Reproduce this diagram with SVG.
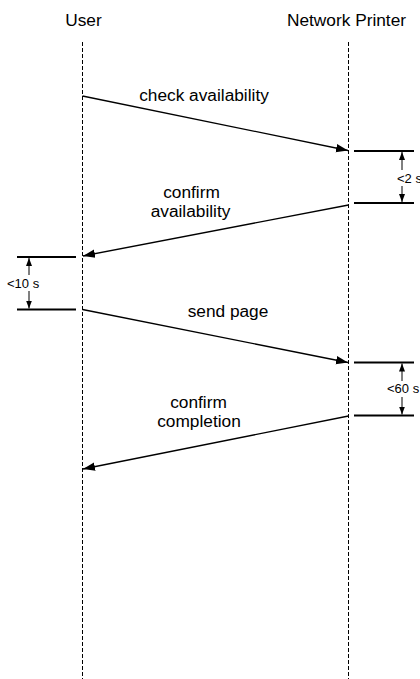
<svg xmlns="http://www.w3.org/2000/svg" width="420" height="679" viewBox="0 0 420 679">
<defs>
<style>
text{font-family:"Liberation Sans",Arial,sans-serif;fill:#000}
.lbl{font-size:17.3px;text-anchor:middle}
.t{font-size:13px}
.life{stroke:#000;stroke-width:1;stroke-dasharray:4 2;fill:none}
.msg{stroke:#000;stroke-width:1.3;fill:none;marker-end:url(#ah)}
.tick{stroke:#000;stroke-width:1.8;fill:none}
.dim{stroke:#000;stroke-width:1;fill:none;marker-end:url(#sh)}
</style>
<marker id="ah" markerUnits="userSpaceOnUse" markerWidth="14" markerHeight="10" viewBox="0 0 14 10" refX="12" refY="5" orient="auto">
<path d="M0,0.8 L12,5 L0,9.2 Z" fill="#000"/>
</marker>
<marker id="sh" markerUnits="userSpaceOnUse" markerWidth="10" markerHeight="8" viewBox="0 0 10 8" refX="8" refY="4" orient="auto">
<path d="M0,1 L8,4 L0,7 Z" fill="#000"/>
</marker>
</defs>
<rect width="420" height="679" fill="#fff"/>
<g id="user">
<text class="lbl" x="83.5" y="26">User</text>
<line class="life" x1="82.5" y1="42" x2="82.5" y2="679"/>
</g>
<g id="printer">
<text class="lbl" x="346.5" y="26">Network Printer</text>
<line class="life" x1="348.5" y1="42" x2="348.5" y2="679"/>
</g>
<g id="connectors">
<line class="msg" x1="82.5" y1="96" x2="348" y2="150.5"/>
<line class="msg" x1="348.5" y1="205" x2="83" y2="256"/>
<line class="msg" x1="82.5" y1="309.5" x2="348" y2="362.5"/>
<line class="msg" x1="348.5" y1="416" x2="83" y2="469"/>
</g>
<g id="labels">
<text class="lbl" x="204" y="101">check availability</text>
<text class="lbl" x="191.5" y="198">confirm</text>
<text class="lbl" x="190.5" y="217">availability</text>
<text class="lbl" x="228" y="317">send page</text>
<text class="lbl" x="198.5" y="408">confirm</text>
<text class="lbl" x="199" y="427">completion</text>
</g>
<g id="timing-2s">
<line class="tick" x1="354" y1="151" x2="414" y2="151"/>
<line class="tick" x1="354" y1="203" x2="414" y2="203"/>
<line class="dim" x1="402" y1="170" x2="402" y2="152"/>
<line class="dim" x1="402" y1="186" x2="402" y2="202"/>
<text class="t" x="397" y="182.5">&lt;2 s</text>
</g>
<g id="timing-10s">
<line class="tick" x1="17" y1="257" x2="76" y2="257"/>
<line class="tick" x1="17" y1="309.5" x2="76" y2="309.5"/>
<line class="dim" x1="29" y1="275" x2="29" y2="258"/>
<line class="dim" x1="29" y1="291" x2="29" y2="308.5"/>
<text class="t" x="7" y="288">&lt;10 s</text>
</g>
<g id="timing-60s">
<line class="tick" x1="354" y1="362.5" x2="414" y2="362.5"/>
<line class="tick" x1="354" y1="415.5" x2="414" y2="415.5"/>
<line class="dim" x1="402" y1="381" x2="402" y2="363.5"/>
<line class="dim" x1="402" y1="397" x2="402" y2="414.5"/>
<text class="t" x="387" y="393">&lt;60 s</text>
</g>
</svg>
